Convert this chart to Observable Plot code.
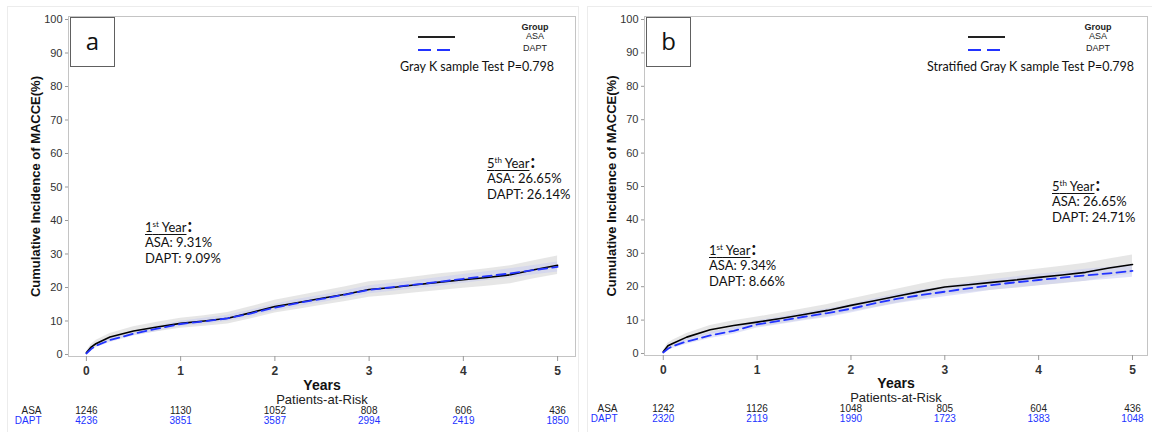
<!DOCTYPE html>
<html>
<head>
<meta charset="utf-8">
<script src="https://cdn.jsdelivr.net/npm/d3@7"></script>
<script src="https://cdn.jsdelivr.net/npm/@observablehq/plot@0.6"></script>
<style>
  html, body { margin: 0; padding: 0; background: #fff; }
  #wrap { position: relative; width: 1152px; height: 432px; overflow: hidden; }
  .panel { position: absolute; top: 0; width: 576px; height: 432px; }
  .panel svg { display: block; }
  .outer { position: absolute; top: 6px; bottom: -2px; border: 1px solid #ececec; }
  .lbl { position: absolute; width: 43px; height: 48px; border: 1px solid #606060; background: #fff;
         font-family: "Open Sans", sans-serif; font-size: 24px; line-height: 46px; text-align: center; color: #111; }
  .ann { position: absolute; font-family: Lato, "Open Sans", sans-serif; font-size: 13px; line-height: 16px; color: #111; white-space: nowrap; }
  .ann u { text-decoration: underline; text-underline-offset: 2px; }
  .ann .colon { font-size: 18px; line-height: 10px; font-weight: bold; margin-left: 1px; }
  .leg { position: absolute; font-family: "Liberation Sans", Arial, sans-serif; font-size: 9px; color: #222; line-height: 10px; white-space: nowrap; }
  .test { position: absolute; font-family: Lato, "Open Sans", sans-serif; font-size: 12.5px; line-height: 16px; color: #111; white-space: nowrap; }
</style>
</head>
<body>
<div id="wrap">
  <div class="outer" style="left:7px; width:570px;"></div>
  <div class="outer" style="left:587px; width:570px;"></div>
  <div class="panel" id="pa" style="left:0px;"></div>
  <div class="panel" id="pb" style="left:576px;"></div>
</div>
<script>
// ---------- data ----------
const years = [0, 0.05, 0.1, 0.25, 0.5, 0.75, 1, 1.25, 1.5, 1.75, 2, 2.25, 2.5, 2.75, 3, 3.25, 3.5, 3.75, 4, 4.25, 4.5, 4.75, 5];

// Panel a (Gray K sample test)
const aAsa      = [0.5, 2.2, 3.2, 5.2, 7.0, 8.2, 9.3, 10.0, 10.8, 12.5, 14.3, 15.5, 16.8, 18.0, 19.4, 20.0, 20.8, 21.6, 22.3, 23.0, 23.8, 25.3, 26.65];
const aAsaLo    = [0.2, 1.4, 2.2, 4.1, 5.7, 6.8, 7.8, 8.4, 9.1, 10.7, 12.4, 13.5, 14.7, 15.8, 17.1, 17.7, 18.4, 19.1, 19.8, 20.4, 21.1, 22.6, 23.9];
const aAsaHi    = [0.8, 3.0, 4.2, 6.3, 8.3, 9.6, 10.8, 11.6, 12.5, 14.3, 16.2, 17.5, 18.9, 20.2, 21.7, 22.3, 23.2, 24.1, 24.8, 25.6, 26.5, 28.0, 29.4];
const aDapt     = [0.3, 1.6, 2.6, 4.3, 6.2, 7.7, 9.1, 9.9, 10.8, 12.3, 14.0, 15.4, 16.6, 17.9, 19.3, 20.1, 20.9, 21.7, 22.6, 23.4, 24.2, 25.2, 26.14];
const aDaptLo   = [0.1, 1.1, 2.0, 3.6, 5.5, 6.9, 8.3, 9.0, 9.9, 11.3, 13.0, 14.3, 15.5, 16.8, 18.1, 18.9, 19.7, 20.4, 21.3, 22.1, 22.8, 23.8, 24.6];
const aDaptHi   = [0.5, 2.1, 3.2, 5.0, 6.9, 8.5, 9.9, 10.8, 11.7, 13.3, 15.0, 16.5, 17.7, 19.0, 20.5, 21.3, 22.1, 23.0, 23.9, 24.7, 25.6, 26.6, 27.6];

// Panel b (Stratified Gray K sample test)
const bAsa      = [0.5, 2.3, 3.0, 4.9, 7.1, 8.4, 9.4, 10.5, 11.7, 12.9, 14.4, 15.8, 17.2, 18.6, 19.9, 20.6, 21.3, 22.0, 22.8, 23.5, 24.3, 25.6, 26.65];
const bAsaLo    = [0.2, 1.5, 2.0, 3.8, 5.8, 7.0, 7.9, 8.9, 10.0, 11.1, 12.5, 13.8, 15.1, 16.4, 17.6, 18.3, 18.9, 19.5, 20.3, 20.9, 21.6, 22.9, 23.9];
const bAsaHi    = [0.8, 3.1, 4.0, 6.0, 8.4, 9.8, 10.9, 12.1, 13.4, 14.7, 16.3, 17.8, 19.3, 20.8, 22.2, 22.9, 23.7, 24.5, 25.3, 26.1, 27.0, 28.3, 29.5];
const bDapt     = [0.3, 1.4, 2.2, 3.6, 5.4, 6.8, 8.7, 9.8, 11.0, 12.1, 13.4, 15.0, 16.4, 17.5, 18.5, 19.5, 20.5, 21.3, 22.0, 22.7, 23.4, 24.0, 24.71];
const bDaptLo   = [0.1, 0.8, 1.5, 2.8, 4.5, 5.8, 7.6, 8.7, 9.8, 10.8, 12.1, 13.6, 15.0, 16.0, 17.0, 17.9, 18.9, 19.7, 20.3, 21.0, 21.6, 22.2, 22.8];
const bDaptHi   = [0.5, 2.0, 2.9, 4.4, 6.3, 7.8, 9.8, 10.9, 12.2, 13.4, 14.7, 16.4, 17.8, 19.0, 20.0, 21.1, 22.1, 22.9, 23.7, 24.4, 25.2, 25.8, 26.6];

// Patients-at-risk
const riskYears = [0, 1, 2, 3, 4, 5];
const aRiskAsa  = [1246, 1130, 1052, 808, 606, 436];
const aRiskDapt = [4236, 3851, 3587, 2994, 2419, 1850];
const bRiskAsa  = [1242, 1126, 1048, 805, 604, 436];
const bRiskDapt = [2320, 2119, 1990, 1723, 1383, 1048];

const xTicks = [0, 1, 2, 3, 4, 5];
const yTicks = [0, 10, 20, 30, 40, 50, 60, 70, 80, 90, 100];
const groups = ["ASA", "DAPT"];
const yTitle = "Cumulative Incidence of MACCE(%)";

// ---------- chart ----------
const BLUE = "#2233ff";
function panel(el, cfg) {
  const rows = years.map((t, i) => ({
    t, asa: cfg.asa[i], asaLo: cfg.asaLo[i], asaHi: cfg.asaHi[i],
    dapt: cfg.dapt[i], daptLo: cfg.daptLo[i], daptHi: cfg.daptHi[i]
  }));
  const risk = riskYears.map((t, i) => ({t, asa: String(cfg.riskAsa[i]), dapt: String(cfg.riskDapt[i])}));
  const chart = Plot.plot({
    width: 576, height: 432,
    marginLeft: 68, marginRight: cfg.mr, marginTop: 16, marginBottom: cfg.mb,
    x: {domain: cfg.xdom},
    y: {domain: [-0.6, 100.9]},
    style: {fontFamily: "'Liberation Sans', Arial, sans-serif", color: "#333", background: "transparent", overflow: "visible"},
    marks: [
      Plot.areaY(rows, {x: "t", y1: "asaLo", y2: "asaHi", fill: "#d2d2d2", fillOpacity: 0.55}),
      Plot.areaY(rows, {x: "t", y1: "daptLo", y2: "daptHi", fill: "#c6caf2", fillOpacity: 0.5}),
      Plot.lineY(rows, {x: "t", y: "asa", stroke: "#000", strokeWidth: 1.6}),
      Plot.lineY(rows, {x: "t", y: "dapt", stroke: BLUE, strokeWidth: 1.8, strokeDasharray: "9,5"}),
      Plot.frame({stroke: "#c4c4c4"}),
      Plot.axisY({ticks: yTicks, tickSize: 3, tickPadding: 3, label: null, fontSize: 11, stroke: "#999"}),
      Plot.axisX({ticks: xTicks, tickFormat: d => String(d), tickSize: 5, tickPadding: 5, label: null, fontSize: 12, fontWeight: "bold", stroke: "#999"}),
      Plot.text([yTitle], {frameAnchor: "left", textAnchor: "middle", rotate: -90, dx: -33, fontWeight: "bold", fontSize: 13, fill: "#111"}),
      Plot.text(["Years"], {frameAnchor: "bottom", dy: cfg.yearsDy, fontWeight: "bold", fontSize: 14, fill: "#111"}),
      Plot.text(["Patients-at-Risk"], {frameAnchor: "bottom", dy: cfg.yearsDy + 14, fontSize: 13, fill: "#222"}),
      Plot.text([groups[0]], {frameAnchor: "bottom-left", dx: -27, dy: cfg.riskDy, textAnchor: "end", fontSize: 10, fill: "#222"}),
      Plot.text([groups[1]], {frameAnchor: "bottom-left", dx: -27, dy: cfg.riskDy + 10, textAnchor: "end", fontSize: 10, fill: BLUE}),
      Plot.text(risk, {x: "t", text: "asa", frameAnchor: "bottom", dy: cfg.riskDy, fontSize: 10, fill: "#222"}),
      Plot.text(risk, {x: "t", text: "dapt", frameAnchor: "bottom", dy: cfg.riskDy + 10, fontSize: 10, fill: BLUE})
    ]
  });
  el.appendChild(chart);
}

panel(document.getElementById("pa"), {
  asa: aAsa, asaLo: aAsaLo, asaHi: aAsaHi, dapt: aDapt, daptLo: aDaptLo, daptHi: aDaptHi,
  riskAsa: aRiskAsa, riskDapt: aRiskDapt,
  xdom: [-0.19, 5.19], mr: 1, mb: 76, yearsDy: 33, riskDy: 57
});
panel(document.getElementById("pb"), {
  asa: bAsa, asaLo: bAsaLo, asaHi: bAsaHi, dapt: bDapt, daptLo: bDaptLo, daptHi: bDaptHi,
  riskAsa: bRiskAsa, riskDapt: bRiskDapt,
  xdom: [-0.2, 5.16], mr: 5, mb: 77, yearsDy: 32, riskDy: 56
});

// ---------- overlays: panel labels, legends, annotations ----------
function overlay(el, o) {
  const add = (html) => el.insertAdjacentHTML("beforeend", html);
  add(`<div class="lbl" style="left:70px; top:17px;">${o.letter}</div>`);
  add(`<svg style="position:absolute; left:${o.legX}px; top:30px;" width="40" height="26">
         <line x1="0" x2="37" y1="7" y2="7" stroke="#222" stroke-width="2"/>
         <line x1="0" x2="34" y1="20" y2="20" stroke="${BLUE}" stroke-width="2" stroke-dasharray="13,6"/>
       </svg>`);
  add(`<div class="leg" style="left:${o.grpX - 30}px; width:60px; text-align:center; top:22px; font-weight:bold;">Group</div>`);
  add(`<div class="leg" style="left:${o.grpX - 30}px; width:60px; text-align:center; top:31px;">${groups[0]}</div>`);
  add(`<div class="leg" style="left:${o.grpX - 30}px; width:60px; text-align:center; top:43px;">${groups[1]}</div>`);
  add(`<div class="test" style="left:${o.testX}px; top:59px;">${o.test}</div>`);
  const block = (x, y, ord, sup, asa, dapt) => add(
    `<div class="ann" style="left:${x}px; top:${y - 8}px;"><u>${ord}<sup style="font-size:8px;">${sup}</sup> Year</u><span class="colon">:</span></div>
     <div class="ann" style="left:${x}px; top:${y + 10}px;">${groups[0]}: ${asa}</div>
     <div class="ann" style="left:${x}px; top:${y + 26}px;">${groups[1]}: ${dapt}</div>`);
  block(o.y1x, o.y1y, "1", "st", o.y1asa, o.y1dapt);
  block(o.y5x, o.y5y, "5", "th", o.y5asa, o.y5dapt);
}
overlay(document.getElementById("pa"), {
  letter: "a", legX: 418, grpX: 535, testX: 400, test: "Gray K sample Test P=0.798",
  y1x: 145, y1y: 224, y1asa: "9.31%", y1dapt: "9.09%",
  y5x: 487, y5y: 160, y5asa: "26.65%", y5dapt: "26.14%"
});
overlay(document.getElementById("pb"), {
  letter: "b", legX: 392, grpX: 522, testX: 351, test: "Stratified Gray K sample Test P=0.798",
  y1x: 133, y1y: 247, y1asa: "9.34%", y1dapt: "8.66%",
  y5x: 476, y5y: 183, y5asa: "26.65%", y5dapt: "24.71%"
});
</script>
</body>
</html>
